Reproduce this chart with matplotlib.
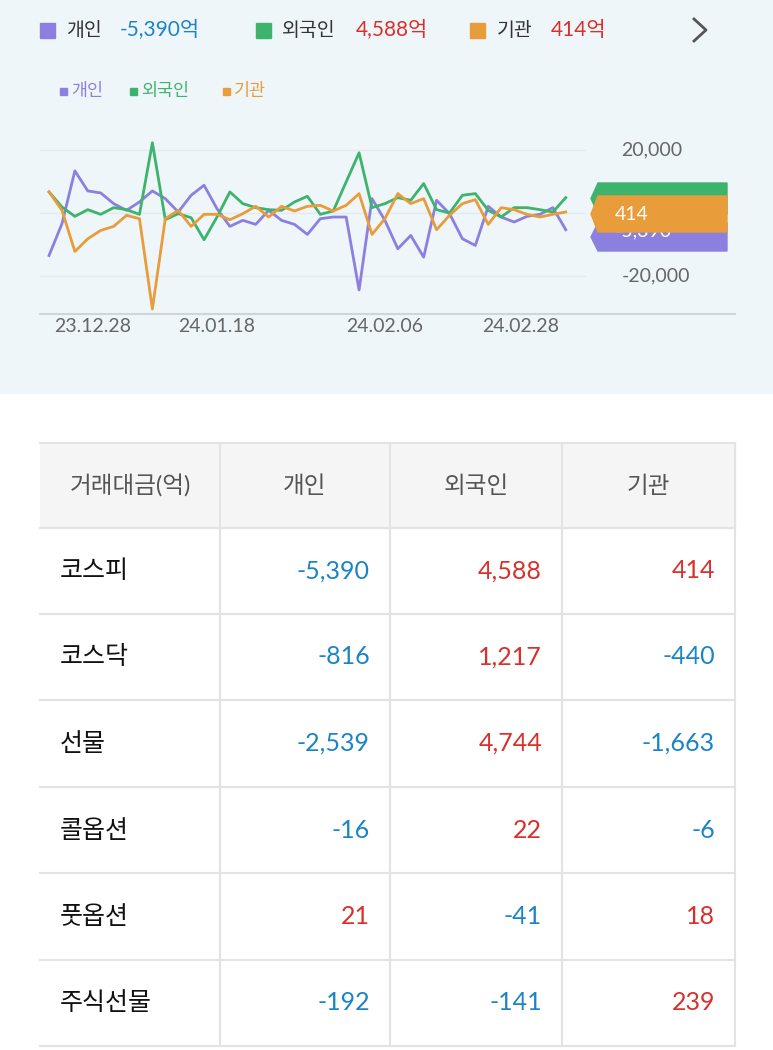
import matplotlib
matplotlib.use("Agg")
import matplotlib.pyplot as plt
from matplotlib.patches import Rectangle, Polygon

plt.rcParams["font.family"] = ["Lato", "Noto Sans CJK KR", "Noto Sans CJK JP", "Noto Sans CJK SC", "DejaVu Sans"]

# ---------------- data ----------------
series_names = ["개인", "외국인", "기관"]
zy_green = [215,260,288,268,282,262,268,282,68,298,280,292,358,290,215,250,262,268,270,245,228,282,272,185,98,262,250,232,240,190,268,278,225,220,270,290,262,262,268,275,232]
zy_orange = [215,270,393,355,330,318,285,295,565,295,270,318,282,282,298,280,258,290,258,272,258,255,272,255,220,342,295,220,250,235,328,285,250,238,312,262,268,282,290,282,275]
zy_purple = [405,310,152,212,218,250,270,245,212,235,275,225,195,265,318,300,312,270,300,312,342,295,290,290,508,235,300,385,345,410,240,280,355,375,258,290,305,288,282,262,328]
foreign = [round((278 - y) * 106) for y in zy_green]
inst = [round((278 - y) * 106) for y in zy_orange]
indiv = [round((278 - y) * 106) for y in zy_purple]
tick_pos = [3.4, 13, 26, 36.5]
tick_labels = ["23.12.28", "24.01.18", "24.02.06", "24.02.28"]
y_ticks = [20000, -20000]

totals = ["-5,390억", "4,588억", "414억"]
tag_values = ["4,584", "414", "-5,390"]

table_header = ["거래대금(억)", "개인", "외국인", "기관"]
row_labels = ["코스피", "코스닥", "선물", "콜옵션", "풋옵션", "주식선물"]
table_values = [
    [-5390, 4588, 414],
    [-816, 1217, -440],
    [-2539, 4744, -1663],
    [-16, 22, -6],
    [21, -41, 18],
    [-192, -141, 239],
]

PURPLE, GREEN, ORANGE = "#8b7fe0", "#3db36b", "#e89c3a"
BLUE, RED = "#1a84c7", "#d9302c"
W, H = 773, 1050

fig = plt.figure(figsize=(W / 100, H / 100), dpi=100)
ov = fig.add_axes([0, 0, 1, 1])
ov.set_xlim(0, W); ov.set_ylim(H, 0); ov.axis("off")
ov.add_patch(Rectangle((0, 0), W, 393, color="#eff6fa", zorder=0))

# top legend
def sq(x, y, c, s=15):
    ov.add_patch(Rectangle((x, y - s / 2), s, s, color=c))
ty = 30
sq(40, ty, PURPLE); ov.text(66, ty, "개인", fontsize=14, color="#333", va="center")
ov.text(120, ty, totals[0], fontsize=15, color=BLUE, va="center")
sq(256, ty, GREEN); ov.text(282, ty, "외국인", fontsize=14, color="#333", va="center")
ov.text(356, ty, totals[1], fontsize=15, color=RED, va="center")
sq(470, ty, ORANGE); ov.text(497, ty, "기관", fontsize=14, color="#333", va="center")
ov.text(551, ty, totals[2], fontsize=15, color=RED, va="center")
ov.plot([694, 706, 694], [19, 30, 41], color="#555", lw=2)

# chart legend
ly = 91
for x, c, t in [(60, PURPLE, "개인"), (130, GREEN, "외국인"), (223, ORANGE, "기관")]:
    sq(x, ly, c, 7)
    ov.text(x + 11, ly, t, fontsize=12.5, color=c, va="center")

# chart
ax = fig.add_axes([40 / W, 1 - 314 / H, 695 / W, 184 / H])
ax.patch.set_alpha(0)
x = list(range(len(indiv)))
ax.plot(x, indiv, color=PURPLE, lw=2)
ax.plot(x, foreign, color=GREEN, lw=2)
ax.plot(x, inst, color=ORANGE, lw=2)
ax.set_xlim(-0.7, 53.1)
ax.set_ylim(-32000, 26300)
for v in y_ticks + [0]:
    ax.plot([-0.7, 41.5], [v, v], color="#e4ebef", lw=1, zorder=0)
for s in ["top", "right", "left"]:
    ax.spines[s].set_visible(False)
ax.spines["bottom"].set_color("#cfd6da"); ax.spines["bottom"].set_linewidth(1.5)
ax.set_yticks([]); ax.set_xticks(tick_pos)
ax.set_xticklabels(tick_labels, fontsize=14, color="#666")
ax.tick_params(axis="x", length=0, pad=3)
for v in y_ticks:
    ax.text(44.3, v, f"{v:,}", fontsize=14, color="#666", va="center")

# tags (later ones cover earlier ones, as in the reference)
def tag(ytop, ybot, c, txt, z, dy=0):
    ym = (ytop + ybot) / 2
    ov.add_patch(Polygon([(598, ytop), (727, ytop), (727, ybot), (598, ybot), (591, ym)], color=c, zorder=z))
    ov.text(615, ym + dy, txt, fontsize=14, color="white", va="center", zorder=z + 0.5)
tag(183, 214, GREEN, tag_values[0], 3, dy=5)
tag(223, 251, PURPLE, tag_values[2], 5, dy=-6)
tag(196, 232, ORANGE, tag_values[1], 7)

# table
cols = [40, 220, 390, 562, 735]
rows = [443, 528, 614, 700, 787, 873, 960, 1046]
ov.add_patch(Rectangle((40, 443), 695, 85, color="#f5f5f5", zorder=0))
LC = "#e3e3e3"
for yv in rows:
    ov.plot([40, 735], [yv, yv], color=LC, lw=1.5)
for xv in cols[1:]:
    ov.plot([xv, xv], [443, 1046], color=LC, lw=1.5)
for i, h in enumerate(table_header):
    ov.text((cols[i] + cols[i + 1]) / 2, 486, h, fontsize=17, color="#555", ha="center", va="center")
for r, (lab, vals) in enumerate(zip(row_labels, table_values)):
    yc = (rows[r + 1] + rows[r + 2]) / 2
    ov.text(60, yc, lab, fontsize=18, color="#111", va="center")
    for j, v in enumerate(vals):
        ov.text(cols[j + 2] - 20, yc, f"{v:,}", fontsize=18, color=BLUE if v < 0 else RED,
                ha="right", va="center")

fig.savefig("out.png", dpi=100)
